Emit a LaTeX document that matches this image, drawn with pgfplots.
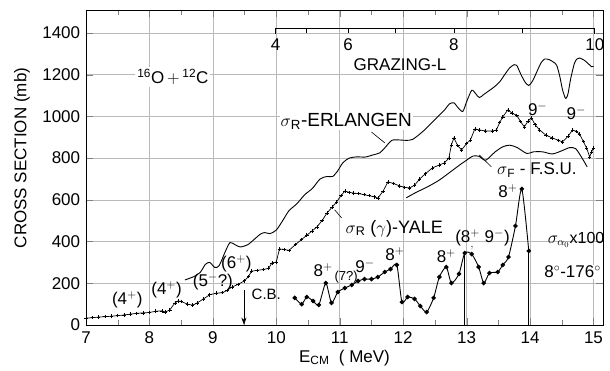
\documentclass[border=0pt]{standalone}
\usepackage{pgfplots}
\pgfplotsset{compat=1.18}
\usepackage{fontspec}
\setmainfont{Liberation Sans}
\usetikzlibrary{calc,arrows.meta}
\begin{document}
\fontsize{17}{20}\selectfont
\begin{tikzpicture}
\begin{axis}[
  scale only axis, width=517pt, height=315pt,
  xmin=7, xmax=15.15, ymin=0, ymax=1510,
  xtick={7,8,...,15}, ytick={0,200,...,1400},
  minor x tick num=1,
  tick align=inside, major tick length=7pt, minor tick length=5pt,
  grid=major, major grid style={gray!55, line width=0.5pt},
  axis line style={line width=0.8pt},
  /pgf/number format/assume math mode=true,
  /pgf/number format/1000 sep={},
  tick label style={font=\fontsize{17}{20}\selectfont},
  xticklabel style={yshift=-1pt},
  clip=false,
  xlabel={E\textsubscript{CM}\ \ ( MeV)},
  ylabel={CROSS SECTION (mb)},
  every axis x label/.style={at={(axis description cs:0.5,0)}, anchor=center, yshift=-33pt},
  every axis y label/.style={at={(axis description cs:0,0.53)}, xshift=-64pt, rotate=90, anchor=center},
  label style={font=\fontsize{17}{20}\selectfont},
]
% Erlangen
\addplot[black, line width=0.9pt, smooth, tension=0.45] coordinates {
(8.56,216)(8.7,232)(8.8,252)(8.88,290)(8.95,300)(9.03,276)(9.1,285)(9.2,355)(9.27,395)(9.35,385)(9.43,374)(9.55,385)(9.65,410)(9.75,436)(9.82,443)(9.9,438)(10.0,455)(10.1,500)(10.2,548)(10.32,580)(10.45,625)(10.57,655)(10.69,700)(10.8,712)(10.89,712)(10.97,740)(11.05,778)(11.15,800)(11.27,806)(11.4,805)(11.52,815)(11.63,825)(11.71,849)(11.82,885)(11.94,887)(12.05,885)(12.15,890)(12.3,925)(12.42,960)(12.55,1000)(12.65,1030)(12.73,1060)(12.8,1065)(12.87,1040)(12.94,1024)(13.0,1070)(13.08,1125)(13.14,1110)(13.2,1090)(13.27,1105)(13.33,1118)(13.43,1140)(13.52,1165)(13.6,1200)(13.68,1233)(13.75,1248)(13.79,1245)(13.85,1205)(13.92,1165)(13.98,1148)(14.04,1170)(14.1,1209)(14.17,1255)(14.23,1275)(14.3,1272)(14.37,1260)(14.42,1245)(14.47,1190)(14.51,1130)(14.55,1092)(14.57,1087)(14.6,1110)(14.64,1180)(14.7,1255)(14.74,1275)(14.78,1280)(14.85,1270)(14.91,1255)(14.97,1238)(15.0,1240)
};
% FSU
\addplot[black, line width=0.9pt, smooth, tension=0.5] coordinates {
(12.05,610)(12.2,635)(12.4,665)(12.57,695)(12.75,735)(12.89,767)(13.0,790)(13.1,810)(13.2,808)(13.3,790)(13.45,830)(13.57,854)(13.68,862)(13.8,850)(13.95,822)(14.05,830)(14.2,830)(14.35,820)(14.5,835)(14.62,850)(14.72,845)(14.82,800)(14.9,758)
};
% Yale
\addplot[black, line width=0.7pt, mark=+, mark size=1.8pt, mark options={line width=0.6pt}] coordinates {
(7.0,33)(7.1,35)(7.2,38)(7.3,40)(7.4,42)(7.5,45)(7.6,48)(7.7,52)(7.8,56)(7.9,58)(8.0,60)(8.1,66)(8.2,68)(8.25,62)(8.32,72)(8.4,105)(8.45,115)(8.5,113)(8.6,100)(8.68,95)(8.75,105)(8.85,125)(8.95,145)(9.05,152)(9.15,155)(9.22,165)(9.3,182)(9.4,195)(9.5,212)(9.56,232)(9.61,258)(9.7,262)(9.8,266)(9.88,272)(9.93,297)(10.0,302)(10.05,365)(10.12,362)(10.2,358)(10.3,385)(10.4,410)(10.48,430)(10.56,450)(10.64,470)(10.72,500)(10.8,537)(10.88,565)(10.95,590)(11.02,620)(11.08,642)(11.15,636)(11.22,632)(11.3,630)(11.38,625)(11.46,620)(11.54,615)(11.6,608)(11.68,640)(11.76,686)(11.85,678)(11.94,667)(12.02,660)(12.1,657)(12.18,670)(12.26,700)(12.35,725)(12.46,753)(12.57,767)(12.65,777)(12.72,800)(12.76,863)(12.8,897)(12.86,860)(12.92,839)(13.0,870)(13.06,887)(13.13,940)(13.2,935)(13.3,930)(13.41,930)(13.47,935)(13.52,970)(13.57,998)(13.65,1031)(13.72,1015)(13.79,1005)(13.85,975)(13.91,950)(13.97,978)(14.02,993)(14.08,960)(14.15,935)(14.25,910)(14.35,897)(14.45,885)(14.51,878)(14.6,905)(14.67,935)(14.73,928)(14.78,915)(14.84,880)(14.89,849)(14.94,806)(14.97,830)(15.0,849)
};
% alpha0 x100
\addplot[black, line width=0.9pt, smooth, tension=0.4, mark=*, mark size=1.8pt] coordinates {
(10.29,130)(10.40,100)(10.48,134)(10.58,115)(10.67,96)(10.78,201)(10.87,106)(10.97,158)(11.08,177)(11.19,192)(11.29,211)(11.39,220)(11.50,220)(11.60,230)(11.71,254)(11.80,268)(11.90,288)(11.98,110)(12.07,134)(12.18,125)(12.27,91)(12.37,62)(12.48,130)(12.57,230)(12.68,278)(12.76,201)(12.88,245)(12.97,345)(13.08,340)(13.19,278)(13.27,201)(13.36,249)(13.49,254)(13.57,288)(13.66,326)(13.77,475)(13.87,652)(13.98,355)
};
\addplot[black, line width=0.8pt] coordinates {(12.97,0)(12.97,345)};
\addplot[black, line width=0.8pt] coordinates {(13.98,0)(13.98,355)};
% grazing-L scale
\draw[line width=0.8pt] (axis cs:9.99,1395) -- (axis cs:9.99,1424) -- (axis cs:15.02,1424) -- (axis cs:15.02,1395);
\draw[line width=0.8pt] (axis cs:10.48,1424) -- (axis cs:10.48,1400);
\draw[line width=0.8pt] (axis cs:11.13,1424) -- (axis cs:11.13,1400);
\draw[line width=0.8pt] (axis cs:11.88,1424) -- (axis cs:11.88,1400);
\draw[line width=0.8pt] (axis cs:12.80,1424) -- (axis cs:12.80,1400);
\draw[line width=0.8pt] (axis cs:13.88,1424) -- (axis cs:13.88,1400);
\node at (axis cs:9.99,1345) {4};
\node at (axis cs:11.13,1345) {6};
\node at (axis cs:12.80,1345) {8};
\node at (axis cs:15.02,1345) {10};
\node[fill=white, inner sep=1pt] at (axis cs:11.95,1247) {GRAZING-L};
\node[fill=white, inner sep=2pt] at (axis cs:8.37,1189) {\textsuperscript{16}O$\,+\,$\textsuperscript{12}C};
% labels
\node[anchor=west, fill=white, inner sep=1pt] at (axis cs:10.05,978) {\fontsize{19}{20}\selectfont$\sigma$\textsubscript{R}-ERLANGEN};
\draw[line width=0.6pt] (axis cs:11.5,925) -- (axis cs:11.71,873);
\node[anchor=west] at (axis cs:11.0,462) {\fontsize{18}{20}\selectfont$\sigma$\textsubscript{R} ($\gamma$)-YALE};
\draw[line width=0.6pt] (axis cs:10.92,552) -- (axis cs:11.03,513);
\node[anchor=west] at (axis cs:13.39,743) {$\sigma$\textsubscript{F} - F.S.U.};
\draw[line width=0.6pt] (axis cs:13.2,815) -- (axis cs:13.39,758);
\node at (axis cs:14.12,1035) {9$^{-}$};
\node at (axis cs:14.73,1015) {9$^{-}$};
\node[anchor=east, inner sep=1pt] at (axis cs:15.19,408) {\fontsize{16}{20}\selectfont$\sigma_{\alpha_0}$x100};
\node[fill=white, inner sep=1pt] at (axis cs:14.67,254) {8$^\circ$-176$^\circ$};
\node at (axis cs:13.65,640) {8$^{+}$};
\node at (axis cs:13.25,410) {(8$^{+}_{,}$ 9$^{-}$)};
\node at (axis cs:12.68,330) {8$^{+}$};
\node at (axis cs:11.87,340) {8$^{+}$};
\node at (axis cs:10.74,262) {8$^{+}$};
\node at (axis cs:11.1,228) {\fontsize{13}{16}\selectfont(7?)};
\node at (axis cs:11.4,284) {9$^{-}$};
\node[anchor=west] at (axis cs:9.52,146) {\fontsize{15}{16}\selectfont C.B.};
\draw[-{Stealth[length=7pt]}, line width=0.7pt] (axis cs:9.49,168) -- (axis cs:9.49,2);
\node at (axis cs:7.65,122) {(4$^{+}$)};
\node at (axis cs:8.27,170) {(4$^{+}$)};
\node at (axis cs:9.0,206) {(5$^{-}$?)};
\node at (axis cs:9.37,292) {(6$^{+}$)};
\end{axis}
\pgfresetboundingbox
\path[use as bounding box] ($(current axis.south west)+(-86pt,-46pt)$) rectangle ($(current axis.north east)+(7pt,10pt)$);
\end{tikzpicture}
\end{document}
